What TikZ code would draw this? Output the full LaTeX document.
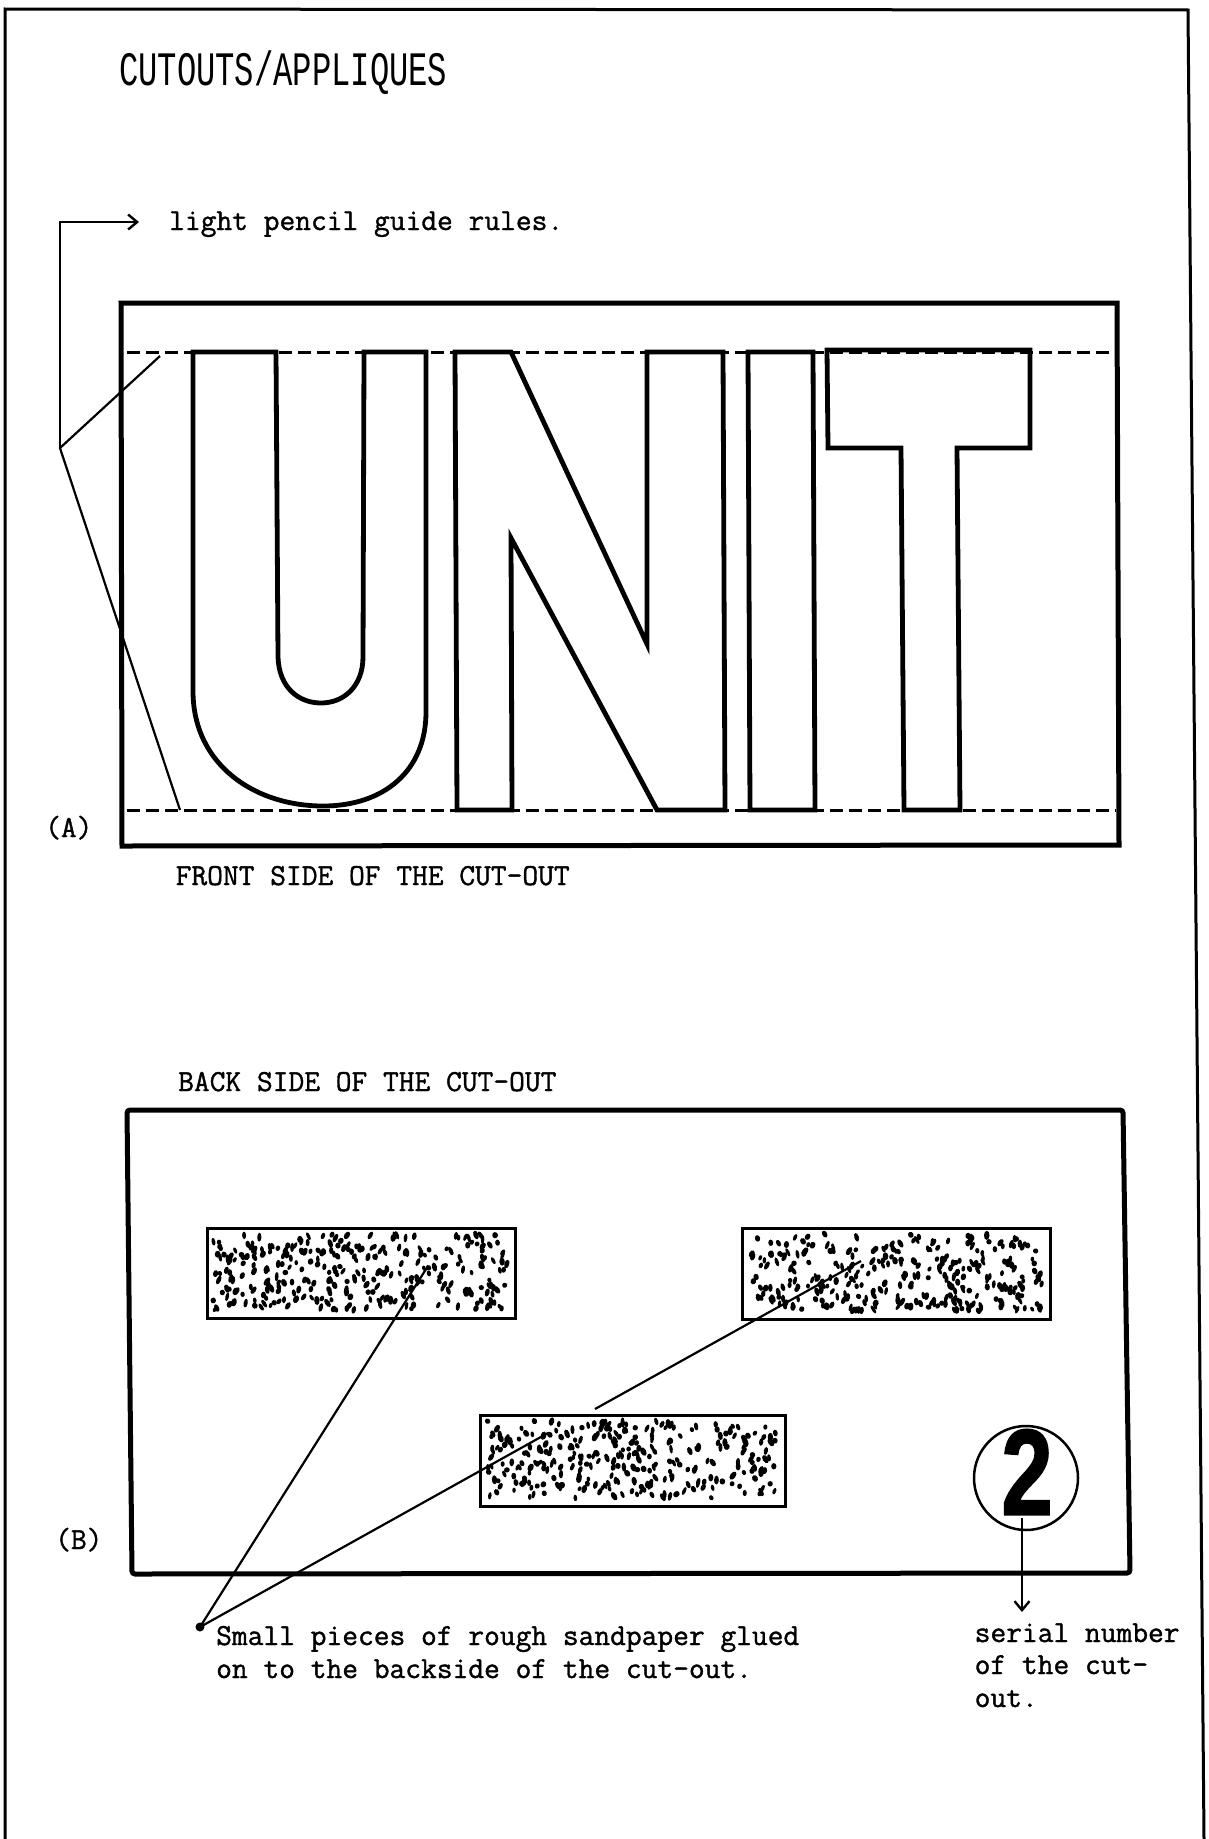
\documentclass[tikz,border=0pt]{standalone}
\usepackage{graphicx}
\usepackage{fontspec}
\newfontfamily\titlefont{Liberation Mono}
\newfontfamily\twfont[FakeBold=1.2]{Latin Modern Mono}
\newfontfamily\numfont[BoldFeatures={FakeBold=1.5}]{Liberation Sans}
\usetikzlibrary{arrows.meta}
\begin{document}
\begin{tikzpicture}[x=1pt,y=-1pt,
  pageline/.style={line width=3pt},
  frame/.style={line width=5pt, line join=miter},
  letter/.style={line width=4.8pt, line join=miter},
  guide/.style={line width=3pt, dash pattern=on 13pt off 6pt},
  lead/.style={line width=2.2pt},
  barb/.style={-{Straight Barb[length=9pt,width=15pt,line width=2.4pt]}},
  sand/.style={draw, line width=2.5pt, inner sep=0pt, anchor=north west},
  tw/.style={font=\twfont\fontsize{30.6}{33}\selectfont, inner sep=0pt, anchor=base west},
]
\useasboundingbox (0,0) rectangle (1208,1839);
\fill[white] (0,0) rectangle (1208,1839);

% page border
\draw[pageline] (5,1839) -- (5,9) -- (1188,10) -- (1204,1839);

% title
\node[inner sep=0pt, anchor=base west] (title) at (119,85)
  {\scalebox{0.67}[1]{\titlefont\fontsize{48}{48}\selectfont CUTOUTS/APPLIQUES}};

% ---------- (A) front side ----------
\node[tw] (light) at (169,230) {light pencil guide rules.};
\coordinate (vtx) at (60,448);
\coordinate (tip) at (139,222);
\coordinate (ga) at (160,356);
\coordinate (gb) at (180,810);
\draw[lead, barb] (vtx) |- (tip);
\draw[lead] (ga) -- (vtx) -- (gb);

\draw[frame] (121,303) -- (1117,303) -- (1119,845) -- (122,846) -- cycle;
\draw[guide] (127,352) -- (1115,352);
\draw[guide] (127,810) -- (1116,810);

% U
\draw[letter] (193,352) -- (276,352) -- (278,657)
  .. controls (279,688) and (299,703) .. (321,703)
  .. controls (344,703) and (363,686) .. (363,657)
  -- (364,352) -- (426,352) -- (426,712)
  .. controls (426,770) and (385,806) .. (323,806)
  .. controls (255,806) and (193,765) .. (193,691) -- cycle;
% N
\draw[letter] (455,352) -- (511,352) -- (647,644) -- (647,352) -- (723,352)
  -- (725,810) -- (657,810) -- (511,538) -- (512,810) -- (457,810) -- cycle;
% I
\draw[letter] (748,352) -- (813,352) -- (815,810) -- (750,810) -- cycle;
% T
\draw[letter] (827,350) -- (1030,350) -- (1030,448) -- (957,448) -- (960,810)
  -- (904,810) -- (901,448) -- (828,448) -- cycle;

\node[tw] (labA) at (45,837) {(A)};
\node[tw] (front) at (175.5,885) {FRONT SIDE OF THE CUT-OUT};

% ---------- (B) back side ----------
\node[tw] (back) at (178,1091) {BACK SIDE OF THE CUT-OUT};
\draw[frame, rounded corners=3pt] (127,1110) -- (1123,1110) -- (1130,1573) -- (132,1574) -- cycle;

\node[sand, minimum width=308pt, minimum height=90pt] (sp1) at (206,1227) {};
\node[sand, minimum width=308pt, minimum height=91pt] (sp2) at (741,1227) {};
\node[sand, minimum width=305pt, minimum height=91pt] (sp3) at (479,1414) {};

\pgfmathsetseed{11}
\foreach \X/\Y/\W/\H in {206/1227/308/90, 741/1227/308/91, 479/1414/305/91}{
  \foreach \k in {1,...,300}{
    \pgfmathsetmacro\bx{\X+7+rnd*(\W-14)}
    \pgfmathsetmacro\by{\Y+7+rnd*(\H-14)}
    \pgfmathsetmacro\ba{55+rnd*70}
    \pgfmathsetmacro\ra{2.5+rnd*2.2}
    \pgfmathsetmacro\rb{1.7+rnd*1.2}
    \fill[rotate around={\ba:(\bx,\by)}] (\bx,\by) ellipse [x radius=\ra pt, y radius=\rb pt];
  }
}

\node[circle, fill, inner sep=0pt, minimum size=9pt] (dot) at (200,1627) {};
\coordinate (l1) at (428,1266);
\coordinate (l2) at (548,1433);
\coordinate (l3a) at (595,1409);
\coordinate (l3b) at (861,1261);
\draw[lead] (l1) -- (dot.center) -- (l2);
\draw[lead] (l3a) -- (l3b);

\node[circle, draw, line width=2.5pt, minimum size=104pt, inner sep=0pt] (c2) at (1026,1478) {};
\node[inner sep=0pt] (two) at (1027,1472)
  {\scalebox{0.85}[1.12]{\numfont\bfseries\fontsize{109}{109}\selectfont 2}};
\coordinate (sa) at (1022,1518);
\coordinate (sb) at (1022,1612);
\draw[lead, barb] (sa) -- (sb);

\node[tw] (labB) at (55,1549) {(B)};
\node[tw] (small1) at (216,1645) {Small pieces of rough sandpaper glued};
\node[tw] (small2) at (216,1678) {on to the backside of the cut-out.};
\node[tw] (ser1) at (974.5,1642) {serial number};
\node[tw] (ser2) at (974.5,1674) {of the cut-};
\node[tw] (ser3) at (974.5,1707) {out.};
\end{tikzpicture}
\end{document}
